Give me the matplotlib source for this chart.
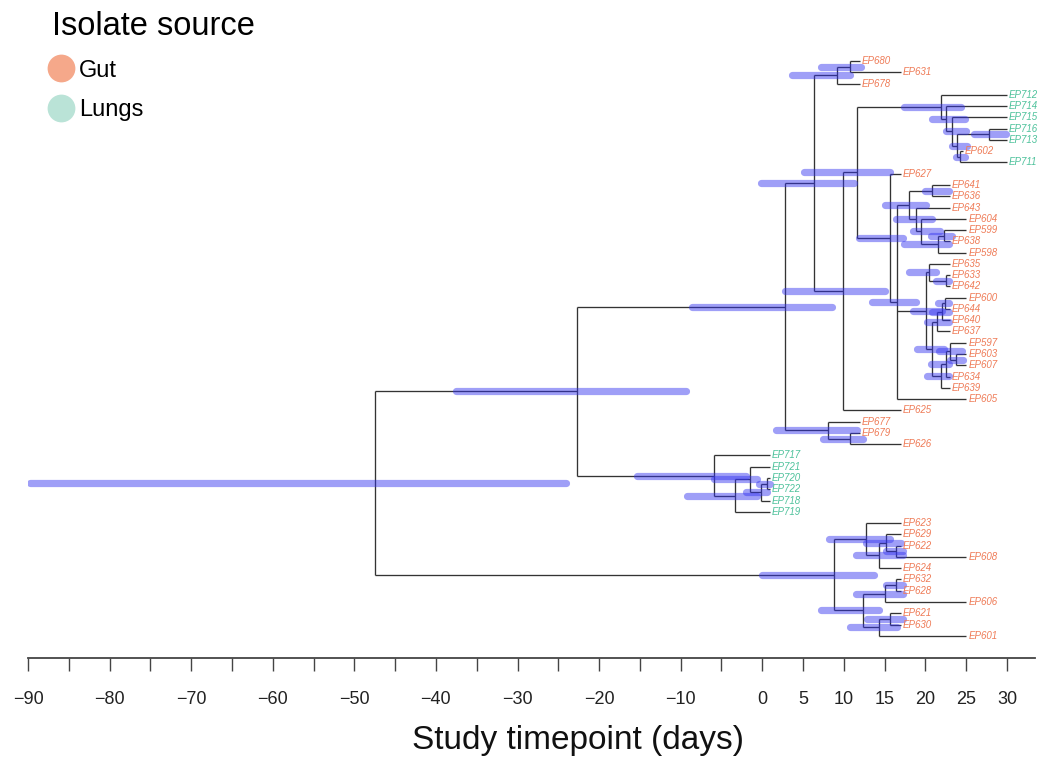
import matplotlib
matplotlib.use("Agg")
import matplotlib.pyplot as plt
from matplotlib.lines import Line2D

plt.rcParams['font.family'] = ['Liberation Sans', 'DejaVu Sans']

# ---------------- data ----------------
tip_names = ["EP680", "EP631", "EP678", "EP712", "EP714", "EP715", "EP716", "EP713",
             "EP602", "EP711", "EP627", "EP641", "EP636", "EP643", "EP604", "EP599",
             "EP638", "EP598", "EP635", "EP633", "EP642", "EP600", "EP644", "EP640",
             "EP637", "EP597", "EP603", "EP607", "EP634", "EP639", "EP605", "EP625",
             "EP677", "EP679", "EP626", "EP717", "EP721", "EP720", "EP722", "EP718",
             "EP719", "EP623", "EP629", "EP622", "EP608", "EP624", "EP632", "EP628",
             "EP606", "EP621", "EP630", "EP601"]
tip_source = ["Gut", "Gut", "Gut", "Lungs", "Lungs", "Lungs", "Lungs", "Lungs",
              "Gut", "Lungs", "Gut", "Gut", "Gut", "Gut", "Gut", "Gut",
              "Gut", "Gut", "Gut", "Gut", "Gut", "Gut", "Gut", "Gut",
              "Gut", "Gut", "Gut", "Gut", "Gut", "Gut", "Gut", "Gut",
              "Gut", "Gut", "Gut", "Lungs", "Lungs", "Lungs", "Lungs", "Lungs",
              "Lungs", "Gut", "Gut", "Gut", "Gut", "Gut", "Gut", "Gut",
              "Gut", "Gut", "Gut", "Gut"]
tip_days = [12, 17, 12, 30, 30, 30, 30, 30,
            24.6, 30, 17, 23, 23, 23, 25, 25,
            23, 25, 23, 23, 23, 25, 23, 23,
            23, 25, 25, 25, 23, 23, 25, 17,
            12, 12, 17, 0.9, 0.9, 0.9, 0.9, 0.9,
            0.9, 17, 17, 17, 25, 17, 17, 17,
            25, 17, 17, 25]

node_ids = ["root", "nI", "nG", "nF", "nA2", "nA1", "nE", "nB",
            "nL1", "nL2", "nL3", "nL4", "nL5", "nL6", "nC", "nD",
            "nD1", "na", "nD2", "nc", "nd", "ne", "nQ", "np",
            "no", "nr", "nn", "nm", "nl", "nk", "nj", "ni",
            "nh", "nH", "nY", "nT", "nU", "nV", "nW", "nX",
            "nJ", "nK", "nLb", "nM", "nN", "nO", "nP", "nQb",
            "nR", "nS"]
node_children = [("nI", "nJ"), ("nG", "nT"), ("nF", "nH"), ("nA2", "nE"),
                 ("nA1", "EP678"), ("EP680", "EP631"), ("nB", "EP625"), ("nL1", "nC"),
                 ("EP712", "nL2"), ("EP714", "nL3"), ("EP715", "nL4"), ("nL5", "nL6"),
                 ("EP716", "EP713"), ("EP602", "EP711"), ("EP627", "nD"), ("nD1", "nQ", "EP605"),
                 ("na", "nD2"), ("EP641", "EP636"), ("EP643", "nc"), ("EP604", "nd"),
                 ("ne", "EP598"), ("EP599", "EP638"), ("np", "nr"), ("EP635", "no"),
                 ("EP633", "EP642"), ("nn", "nk"), ("nm", "EP637"), ("nl", "EP640"),
                 ("EP600", "EP644"), ("nj", "EP639"), ("ni", "EP634"), ("EP597", "nh"),
                 ("EP603", "EP607"), ("EP677", "nY"), ("EP679", "EP626"), ("EP717", "nU"),
                 ("nV", "EP719"), ("EP721", "nW"), ("nX", "EP718"), ("EP720", "EP722"),
                 ("nK", "nO"), ("EP623", "nLb"), ("nM", "EP624"), ("EP629", "nN"),
                 ("EP622", "EP608"), ("nP", "nR"), ("nQb", "EP606"), ("EP632", "EP628"),
                 ("nS", "EP601"), ("EP621", "EP630")]
node_days = [-47.5, -22.7, 2.8, 6.4, 9.2, 10.8, 9.9, 11.6,
             21.9, 22.5, 23.3, 23.9, 27.8, 24.3, 15.7, 16.5,
             18.0, 20.8, 18.9, 19.5, 21.6, 22.3, 20.1, 20.5,
             22.5, 20.8, 21.4, 22.0, 22.4, 21.9, 22.5, 23.0,
             23.8, 8.0, 10.7, -5.9, -3.3, -1.5, -0.1, 0.6,
             8.8, 12.7, 14.3, 15.2, 16.4, 12.3, 15.0, 16.4,
             14.3, 15.6]
hpd_low = [-89.8, -37.5, -8.6, -0.2, 3.7, 7.2, 2.8, 5.1,
           17.4, 20.8, 22.5, 23.2, 26.0, 23.8, 11.9, 13.5,
           15.0, 20.0, 16.4, 18.5, 17.4, 20.7, 18.5, 18.0,
           21.3, 19.0, 20.2, 20.8, 21.5, 20.2, 20.7, 21.7,
           23.0, 1.7, 7.4, -15.4, -9.2, -5.9, -2.0, -0.4,
           0.0, 8.2, 11.5, 12.7, 15.2, 7.2, 11.5, 15.2,
           10.7, 12.9]
hpd_high = [-24.0, -9.4, 8.6, 11.3, 10.7, 12.1, 15.0, 15.6,
            24.4, 24.8, 25.0, 25.1, 29.9, 24.8, 17.2, 18.9,
            20.1, 22.9, 20.8, 21.8, 22.9, 23.2, 22.0, 21.3,
            22.9, 22.3, 22.9, 22.9, 22.9, 22.9, 22.9, 24.5,
            24.6, 11.6, 12.3, -2.0, -0.7, -0.7, 0.6, 1.0,
            13.7, 15.6, 17.2, 17.0, 17.2, 14.3, 17.2, 17.2,
            16.5, 17.2]

tick_values = [-90, -85, -80, -75, -70, -65, -60, -55, -50, -45, -40, -35, -30,
               -25, -20, -15, -10, -5, 0, 5, 10, 15, 20, 25, 30]
tick_labels = ["\u221290", "", "\u221280", "", "\u221270", "", "\u221260", "", "\u221250", "",
               "\u221240", "", "\u221230", "", "\u221220", "", "\u221210", "", "0", "5",
               "10", "15", "20", "25", "30"]

source_label_colors = {"Gut": "#ef7c58", "Lungs": "#4fc29c"}
source_legend_colors = {"Gut": "#f5a88a", "Lungs": "#bae3d7"}

# ---------------- tree layout ----------------
tip_row = {n: i for i, n in enumerate(tip_names)}
tip_day = dict(zip(tip_names, tip_days))
children = dict(zip(node_ids, node_children))
nday = dict(zip(node_ids, node_days))


def day_of(n):
    return tip_day[n] if n in tip_day else nday[n]


ypos = {}


def compute_y(n):
    if n in tip_row:
        ypos[n] = tip_row[n]
    else:
        ys = [compute_y(c) for c in children[n]]
        ypos[n] = (min(ys) + max(ys)) / 2.0
    return ypos[n]


compute_y("root")

# ---------------- figure ----------------
fig = plt.figure(figsize=(10.39, 7.6), dpi=100)
ax = fig.add_axes([28 / 1039, 102 / 760, (1035 - 28) / 1039, (658 - 40) / 760])

line_kw = dict(color="#333333", lw=0.95, solid_capstyle="butt", zorder=2)
for n in node_ids:
    x0 = nday[n]
    ys = [ypos[c] for c in children[n]]
    ax.plot([x0, x0], [min(ys), max(ys)], **line_kw)
    for c in children[n]:
        ax.plot([x0, day_of(c)], [ypos[c], ypos[c]], **line_kw)

for n, lo, hi in zip(node_ids, hpd_low, hpd_high):
    ax.plot([lo, hi], [ypos[n], ypos[n]], color="#3434f0", alpha=0.47, lw=5.2,
            solid_capstyle="round", zorder=3)

for n, src in zip(tip_names, tip_source):
    ax.text(tip_day[n] + 0.25, ypos[n], n, fontsize=7, style="italic",
            color=source_label_colors[src], va="center", ha="left", zorder=4)

ax.set_xlim(-90, -90 + (1035 - 28) / ((1007 - 28) / 120))
ax.set_ylim((658 - 61) / 11.27, (40 - 61) / 11.27)

for s in ["top", "right", "left"]:
    ax.spines[s].set_visible(False)
ax.spines["bottom"].set_color("#444444")
ax.spines["bottom"].set_linewidth(1.3)
ax.set_yticks([])
ax.set_xticks(tick_values)
ax.set_xticklabels(tick_labels)
ax.tick_params(axis="x", direction="out", length=9, width=1.0, color="#444444",
               pad=15, labelsize=13, labelcolor="#222222")
ax.set_xlabel("Study timepoint (days)", fontsize=24, labelpad=12, color="#111111",
              x=(578 - 28) / (1035 - 28))

handles = [Line2D([], [], ls="", marker="o", ms=20, mec="none",
                  mfc=source_legend_colors[s], label=s) for s in ["Gut", "Lungs"]]
leg = ax.legend(handles=handles, title="Isolate source", loc="upper left",
                bbox_to_anchor=(52 / 1039, 1 - 11 / 760), bbox_transform=fig.transFigure,
                frameon=False, fontsize=17, title_fontsize=23.5, borderpad=0,
                borderaxespad=0, handlelength=0.8, handletextpad=0.35,
                labelspacing=0.75, alignment="left")

fig.savefig("out.png", dpi=100)
